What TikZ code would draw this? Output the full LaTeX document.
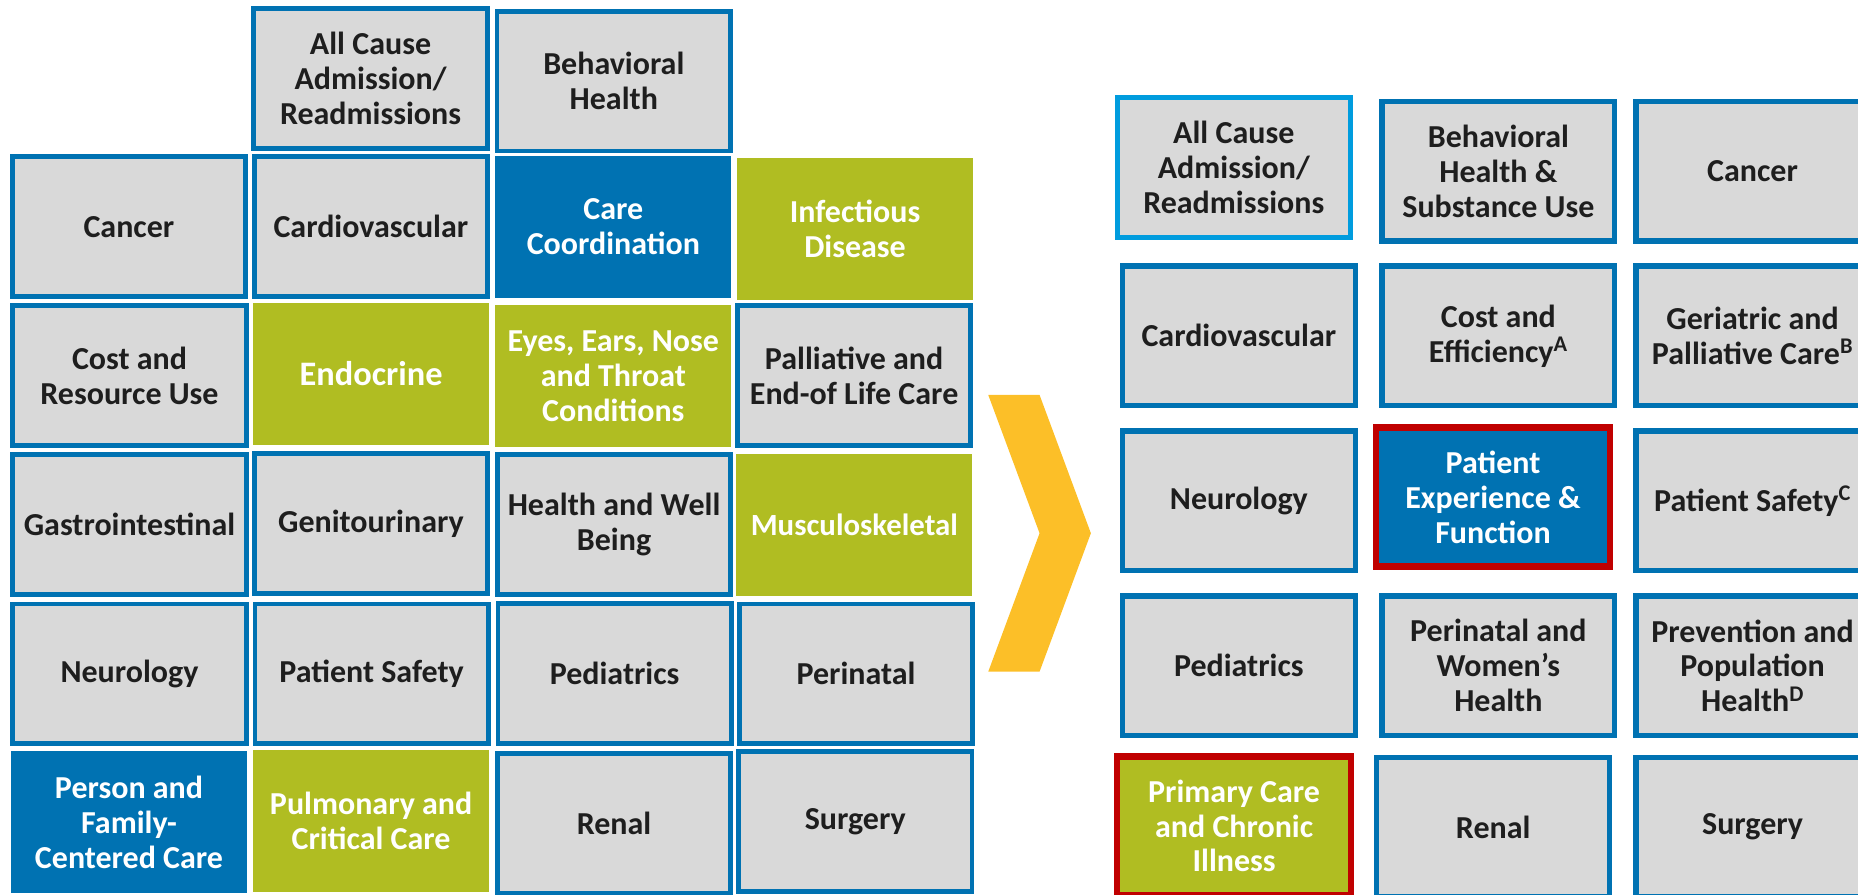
\documentclass[tikz,border=0pt]{standalone}
\usepackage{fontspec}
\setmainfont{Carlito}
\usepackage{xcolor}
\definecolor{cellblue}{RGB}{0,114,178}
\definecolor{cellgreen}{RGB}{176,189,34}
\definecolor{cellgrey}{RGB}{217,217,217}
\definecolor{cellred}{RGB}{192,0,0}
\definecolor{edgeblue}{RGB}{0,156,222}
\definecolor{chevronyellow}{RGB}{252,191,40}
\definecolor{celltext}{RGB}{30,30,30}
\RequirePackage{tikz}

\begin{document}
\begin{tikzpicture}[x=1pt, y=-1pt,
	cell/.style={inner sep=0pt, align=center, font=\fontsize{27}{29.5}\selectfont\bfseries},
	greycell/.style={cell, draw=cellblue, line width=4pt, fill=cellgrey, text=celltext, minimum width=197, minimum height=118},
	bluecell/.style={cell, fill=cellblue, text=white, minimum width=199, minimum height=120},
	greencell/.style={cell, fill=cellgreen, text=white, minimum width=199, minimum height=120},
	newcell/.style={cell, draw=cellblue, line width=4.5pt, fill=cellgrey, text=celltext, minimum width=196.5, minimum height=118},
	markedcell/.style={cell, draw=cellred, line width=5.5pt, text=white, minimum width=197.5, minimum height=117.5}]
				\useasboundingbox (0,0) rectangle (1568,755);
				\clip (0,0) rectangle (1568,755);
				% old measure groups
				\node[greycell] (allcause) at (312.7,66.2) {All Cause\\Admission/\\Readmissions};
				\node[greycell] (behav) at (518,68.5) {Behavioral\\Health};
				\node[greycell] (cancer) at (108.8,191.3) {Cancer};
				\node[greycell] (cardio) at (313,191.3) {Cardiovascular};
				\node[bluecell] (carecoord) at (517.6,191.4) {Care\\Coordination};
				\node[greencell] (infect) at (721.6,193.1) {Infectious\\Disease};
				\node[greycell] (costres) at (109.3,316.9) {Cost and\\Resource Use};
				\node[greencell, font=\fontsize{29}{32}\selectfont\bfseries] (endo) at (313.2,315.5) {Endocrine};
				\node[greencell] (eyes) at (517.6,317.2) {Eyes, Ears, Nose\\and Throat\\Conditions};
				\node[greycell] (palliative) at (720.8,316.9) {Palliative and\\End-of Life Care};
				\node[greycell] (gastro) at (109.3,442.8) {Gastrointestinal};
				\node[greycell] (genito) at (313,441.9) {Genitourinary};
				\node[greycell] (wellbeing) at (518.2,442.7) {Health and Well\\Being};
				\node[greencell, font=\fontsize{26}{29.5}\selectfont\bfseries] (musculo) at (721,442.8) {Musculoskeletal};
				\node[greycell] (neuro) at (109.3,568.7) {Neurology};
				\node[greycell] (patsafety) at (313.6,568.7) {Patient Safety};
				\node[greycell] (pediatrics) at (518.7,568.3) {Pediatrics};
				\node[greycell] (perinatal) at (722.4,568.7) {Perinatal};
				\node[bluecell] (person) at (108.9,693.7) {Person and\\Family-\\Centered Care};
				\node[greencell] (pulmonary) at (313.2,692.8) {Pulmonary and\\Critical Care};
				\node[greycell] (renal) at (518.2,694.8) {Renal};
				\node[greycell] (surgery) at (721.8,693.4) {Surgery};
				% chevron
				\fill[chevronyellow] (834,333.3) -- (877.3,333.3) -- (920.6,450) -- (877.3,566.8) -- (834,566.8) -- (877.3,450) -- cycle;
				% new measure groups
				\node[newcell, draw=edgeblue] (newallcause) at (1041.2,141.4) {All Cause\\Admission/\\Readmissions};
				\node[newcell] (newbehav) at (1264.5,144.5) {Behavioral\\Health \&\\Substance Use};
				\node[newcell] (newcancer) at (1479,144.5) {Cancer};
				\node[newcell] (newcardio) at (1045.5,283.4) {Cardiovascular};
				\node[newcell] (newcost) at (1264.5,283.4) {Cost and\\Efficiency\textsuperscript{A}};
				\node[newcell] (newgeriatric) at (1479,283.4) {Geriatric and\\Palliative Care\textsuperscript{B}};
				\node[newcell] (newneuro) at (1045.5,422.7) {Neurology};
				\node[markedcell, fill=cellblue] (newexperience) at (1260,419.4) {Patient\\Experience \&\\Function};
				\node[newcell] (newpatsafety) at (1479,422.7) {Patient Safety\textsuperscript{C}};
				\node[newcell] (newpediatrics) at (1045.5,561.9) {Pediatrics};
				\node[newcell] (newperinatal) at (1264.5,561.9) {Perinatal and\\Women’s\\Health};
				\node[newcell] (newprevention) at (1479,561.9) {Prevention and\\Population\\Health\textsuperscript{D}};
				\node[markedcell, fill=cellgreen] (newprimary) at (1041.5,697) {Primary Care\\and Chronic\\Illness};
				\node[newcell] (newrenal) at (1260.1,698) {Renal};
				\node[newcell] (newsurgery) at (1479,698) {Surgery};
			\end{tikzpicture}
\end{document}
